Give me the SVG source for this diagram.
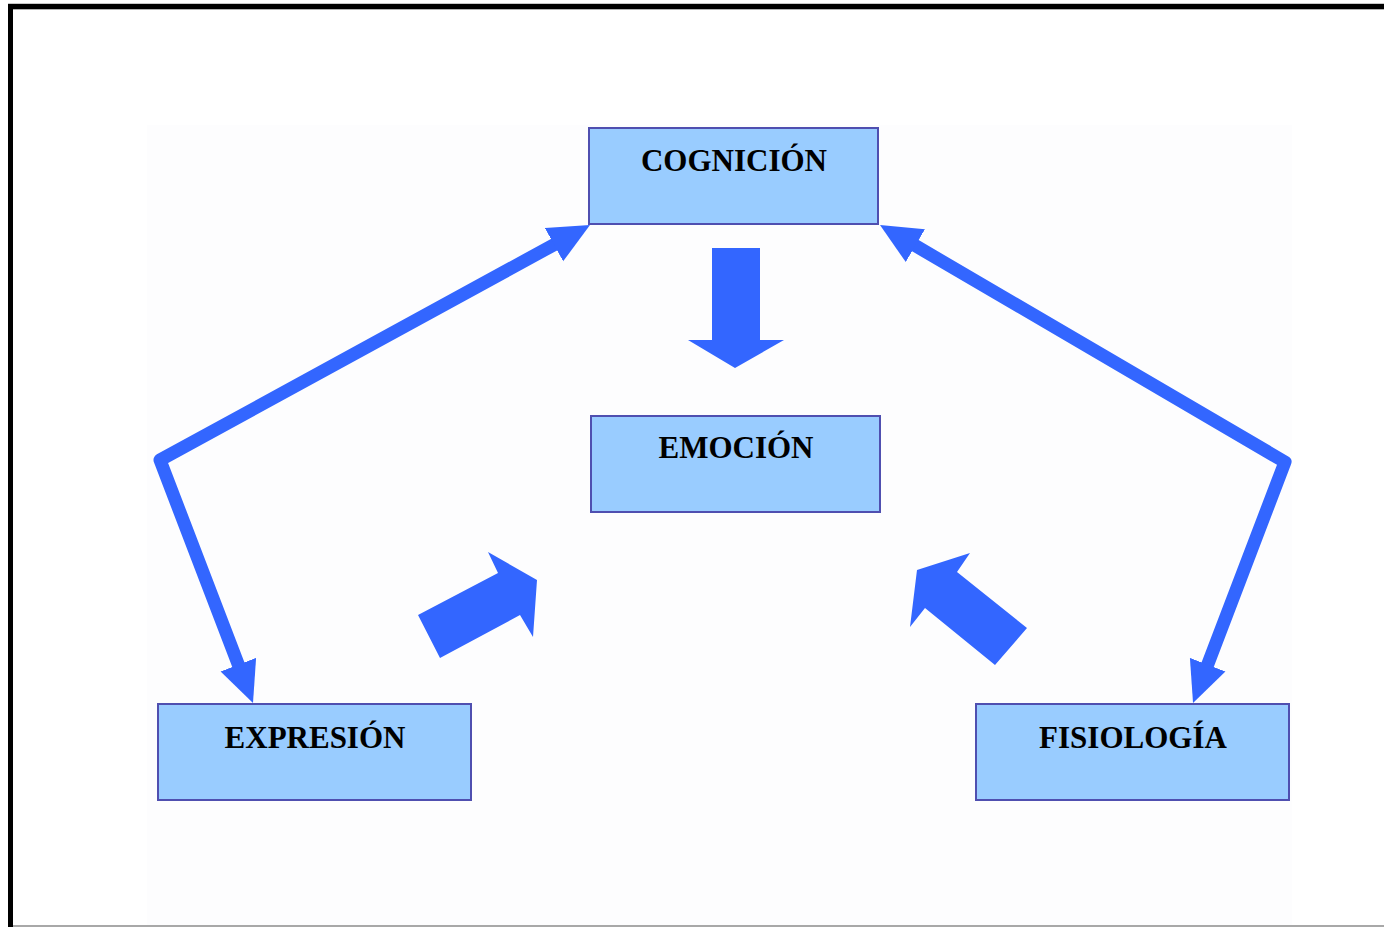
<svg xmlns="http://www.w3.org/2000/svg" width="1384" height="927" viewBox="0 0 1384 927">
<style>
.box{fill:#99ccff;stroke:#4f4fb0;stroke-width:2}
.lbl{font-family:"Liberation Serif","Times New Roman",serif;font-weight:bold;font-size:31px;fill:#000;text-anchor:middle}
.conn{fill:none;stroke:#3366ff;stroke-width:13;stroke-linejoin:round}
.block{fill:#3366ff}
</style>
<defs>
<marker id="ah" viewBox="0 -20 42 40" markerWidth="42" markerHeight="40" refX="1" refY="0" markerUnits="userSpaceOnUse" orient="auto-start-reverse">
<polygon points="0,-19 41,0 0,19" fill="#3366ff"/>
</marker>
</defs>
<rect x="0" y="0" width="1384" height="927" fill="#ffffff"/>
<rect x="147" y="125" width="1145" height="802" fill="#fdfdfe"/>
<g id="frame">
<rect x="8" y="3" width="1376" height="1" fill="#c8c8c8"/>
<rect x="8" y="4" width="1376" height="5" fill="#000"/>
<rect x="13" y="9" width="1371" height="1" fill="#b0b0b0"/>
<rect x="8" y="4" width="5" height="923" fill="#000"/>
<rect x="13" y="925" width="1371" height="2" fill="#a8a8a8"/>
</g>
<g id="connectors">
<path class="conn" d="M554.9,244.2 L160,460 L238.7,665.6" marker-start="url(#ah)" marker-end="url(#ah)"/>
<path class="conn" d="M914.5,245.2 L1285,462 L1207.3,665.6" marker-start="url(#ah)" marker-end="url(#ah)"/>
<polygon class="block" points="712,248 760,248 760,340 784,340 735,368 688,340 712,340"/>
<polygon class="block" points="440,658 418,615 498,573 488,552 537,580 533,637 520,615"/>
<polygon class="block" points="1027,628 995,665 925,608 910,627 917,570 970,553 957,572"/>
</g>
<g id="cognicion">
<rect class="box" x="589" y="128" width="289" height="96"/>
<text class="lbl" x="734" y="171">COGNICIÓN</text>
</g>
<g id="emocion">
<rect class="box" x="591" y="416" width="289" height="96"/>
<text class="lbl" x="736" y="458">EMOCIÓN</text>
</g>
<g id="expresion">
<rect class="box" x="158" y="704" width="313" height="96"/>
<text class="lbl" x="315" y="748">EXPRESIÓN</text>
</g>
<g id="fisiologia">
<rect class="box" x="976" y="704" width="313" height="96"/>
<text class="lbl" x="1133" y="748">FISIOLOGÍA</text>
</g>
</svg>
